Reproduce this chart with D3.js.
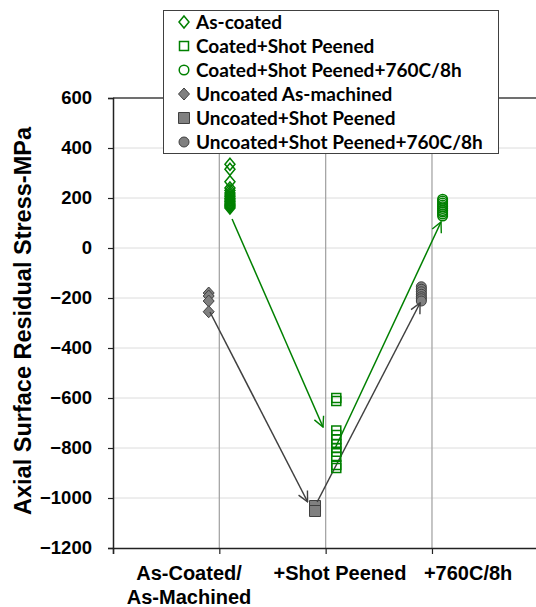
<!DOCTYPE html>
<html>
<head>
<meta charset="utf-8">
<script src="https://cdn.jsdelivr.net/npm/d3@7"></script>
<style>
  html, body { margin: 0; padding: 0; background: #fff; }
  svg { display: block; }
</style>
</head>
<body>
<svg id="chart" width="536" height="607"></svg>
<script>
// Axial surface residual stress (MPa) by processing step
const yTicks = [-1200, -1000, -800, -600, -400, -200, 0, 200, 400, 600];
const stepLabels = [
  { x: 0.715, lines: ["As-Coated/", "As-Machined"] },
  { x: 2.135, lines: ["+Shot Peened"] },
  { x: 3.34, lines: ["+760C/8h"] }
];
const stepGrid = [1, 2, 3];

const asCoated = [335, 315, 265, 240, 230, 220, 212, 205, 198, 192, 186, 180, 175, 170, 165, 160];
const coatedPeened = [-600, -612, -730, -748, -765, -785, -800, -815, -835, -868, -880];
const coatedPeenedAged = [195, 188, 180, 172, 165, 158, 150, 144, 136, 128];
const uncoatedMachined = [-180, -192, -212, -255];
const uncoatedPeened = [-1032, -1052];
const uncoatedPeenedAged = [-155, -165, -175, -185, -195, -203, -212];

const coatedArrows = [
  { x1: 1.12, y1: 116, x2: 1.975, y2: -716 },
  { x1: 2.09, y1: -800, x2: 3.085, y2: 104 }
];
const uncoatedArrows = [
  { x1: 0.912, y1: -256, x2: 1.83, y2: -1015 },
  { x1: 1.92, y1: -1016, x2: 2.888, y2: -220 }
];

const GREEN = "#008000", GREY_FILL = "#808080", GREY_LINE = "#404040";

const series = [
  { name: "As-coated", x: 1.10, values: asCoated, shape: "diamond", fill: "none", stroke: GREEN },
  { name: "Coated+Shot Peened", x: 2.10, values: coatedPeened, shape: "square", fill: "none", stroke: GREEN },
  { name: "Coated+Shot Peened+760C/8h", x: 3.10, values: coatedPeenedAged, shape: "circle", fill: "none", stroke: GREEN },
  { name: "Uncoated As-machined", x: 0.90, values: uncoatedMachined, shape: "diamond", fill: GREY_FILL, stroke: GREY_LINE },
  { name: "Uncoated+Shot Peened", x: 1.90, values: uncoatedPeened, shape: "square", fill: GREY_FILL, stroke: GREY_LINE },
  { name: "Uncoated+Shot Peened+760C/8h", x: 2.90, values: uncoatedPeenedAged, shape: "circle", fill: GREY_FILL, stroke: GREY_LINE }
];

const svg = d3.select("#chart");
const plotLeft = 113, plotRight = 538.3, plotTop = 98, plotBottom = 548;

const x = d3.scaleLinear().domain([0, 4]).range([plotLeft, plotRight]);
const y = d3.scaleLinear().domain([-1200, 600]).range([plotBottom, plotTop]);

// horizontal gridlines
svg.append("g")
  .selectAll("line")
  .data(yTicks.filter(v => v > -1200 && v < 600))
  .join("line")
  .attr("x1", plotLeft).attr("x2", plotRight)
  .attr("y1", d => y(d)).attr("y2", d => y(d))
  .attr("stroke", "#dcdcdc").attr("stroke-width", 1);

// vertical gridlines at each processing step
svg.append("g")
  .selectAll("line")
  .data(stepGrid)
  .join("line")
  .attr("x1", d => x(d)).attr("x2", d => x(d))
  .attr("y1", plotTop).attr("y2", plotBottom)
  .attr("stroke", "#a6a6a6").attr("stroke-width", 1.3);

// top border of the plot area
svg.append("line")
  .attr("x1", plotLeft).attr("x2", plotRight)
  .attr("y1", y(600)).attr("y2", y(600))
  .attr("stroke", "#404040").attr("stroke-width", 1.5);

// y axis
const yAxis = svg.append("g")
  .attr("transform", `translate(${plotLeft},0)`)
  .call(d3.axisLeft(y).tickValues(yTicks).tickSize(5).tickPadding(16).tickFormat(d3.format("d")));
yAxis.select(".domain").attr("stroke", "#222").attr("stroke-width", 1.5);
yAxis.selectAll(".tick line").attr("stroke", "#222").attr("stroke-width", 1.2);
yAxis.selectAll(".tick text")
  .attr("font-family", "Liberation Sans, Arial, sans-serif")
  .attr("font-weight", "bold").attr("font-size", 18.5).attr("fill", "#000");

// x axis
const xAxis = svg.append("g")
  .attr("transform", `translate(0,${plotBottom})`)
  .call(d3.axisBottom(x).tickValues([0, 1, 2, 3]).tickSize(6).tickFormat(""));
xAxis.select(".domain").attr("stroke", "#222").attr("stroke-width", 1.5);
xAxis.selectAll(".tick line").attr("stroke", "#222").attr("stroke-width", 1.2);

// step labels
const lab = svg.append("g")
  .attr("font-family", "Liberation Sans, Arial, sans-serif")
  .attr("font-weight", "bold").attr("font-size", 20).attr("text-anchor", "middle");
stepLabels.forEach(s => {
  s.lines.forEach((t, i) => {
    lab.append("text").attr("x", x(s.x)).attr("y", 580 + i * 24).text(t);
  });
});

// y axis title
svg.append("text")
  .attr("transform", "translate(31,321) rotate(-90)")
  .attr("text-anchor", "middle")
  .attr("font-family", "Liberation Sans, Arial, sans-serif")
  .attr("font-weight", "bold").attr("font-size", 23.5)
  .text("Axial Surface Residual Stress-MPa");

// arrowheads
const defs = svg.append("defs");
[["arrGreen", GREEN], ["arrGrey", GREY_LINE]].forEach(([id, c]) => {
  defs.append("marker")
    .attr("id", id).attr("viewBox", "0 0 12 12")
    .attr("refX", 11).attr("refY", 6)
    .attr("markerWidth", 12).attr("markerHeight", 12)
    .attr("markerUnits", "userSpaceOnUse")
    .attr("orient", "auto")
    .append("path")
    .attr("d", "M1,1 L11,6 L1,11")
    .attr("fill", "none").attr("stroke", c).attr("stroke-width", 1.4);
});

function drawArrows(data, color, id) {
  svg.append("g").selectAll("line").data(data).join("line")
    .attr("x1", d => x(d.x1)).attr("y1", d => y(d.y1))
    .attr("x2", d => x(d.x2)).attr("y2", d => y(d.y2))
    .attr("stroke", color).attr("stroke-width", 1.5)
    .attr("marker-end", `url(#${id})`);
}

// marker glyphs
function shapePath(shape) {
  if (shape === "diamond") return "M0,-6 L5,0 L0,6 L-5,0 Z";
  if (shape === "square") return "M-4.5,-4.5 H4.5 V4.5 H-4.5 Z";
  return d3.arc()({ innerRadius: 0, outerRadius: 4.8, startAngle: 0, endAngle: 2 * Math.PI });
}
function shapePathGrey(shape) {
  if (shape === "diamond") return "M0,-6 L5.5,0 L0,6 L-5.5,0 Z";
  if (shape === "square") return "M-5.5,-5.5 H5.5 V5.5 H-5.5 Z";
  return d3.arc()({ innerRadius: 0, outerRadius: 5, startAngle: 0, endAngle: 2 * Math.PI });
}

function drawSeries(s) {
  const p = s.fill === "none" ? shapePath(s.shape) : shapePathGrey(s.shape);
  svg.append("g").selectAll("path").data(s.values).join("path")
    .attr("transform", d => `translate(${x(s.x)},${y(d)})`)
    .attr("d", p)
    .attr("fill", s.fill === "none" ? "none" : s.fill)
    .attr("stroke", s.stroke).attr("stroke-width", s.fill === "none" ? 1.5 : 1);
}

series.filter(s => s.fill !== "none").forEach(drawSeries);
drawArrows(uncoatedArrows, GREY_LINE, "arrGrey");
series.filter(s => s.fill === "none").forEach(drawSeries);
drawArrows(coatedArrows, GREEN, "arrGreen");

// legend
const lg = svg.append("g");
lg.append("rect")
  .attr("x", 163.5).attr("y", 10.5).attr("width", 335).attr("height", 143)
  .attr("fill", "#fff").attr("stroke", "#404040").attr("stroke-width", 1);
series.forEach((s, i) => {
  const cy = 22 + i * 24;
  const p = s.fill === "none" ? shapePath(s.shape) : shapePathGrey(s.shape);
  lg.append("path")
    .attr("transform", `translate(184,${cy})`)
    .attr("d", p)
    .attr("fill", s.fill === "none" ? "#fff" : s.fill)
    .attr("stroke", s.stroke).attr("stroke-width", s.fill === "none" ? 1.5 : 1);
  lg.append("text")
    .attr("x", 196).attr("y", cy + 7)
    .attr("font-family", "Lato, 'Open Sans', sans-serif")
    .attr("font-weight", "bold").attr("font-size", 19)
    .attr("fill", "#000")
    .text(s.name);
});
</script>
</body>
</html>
